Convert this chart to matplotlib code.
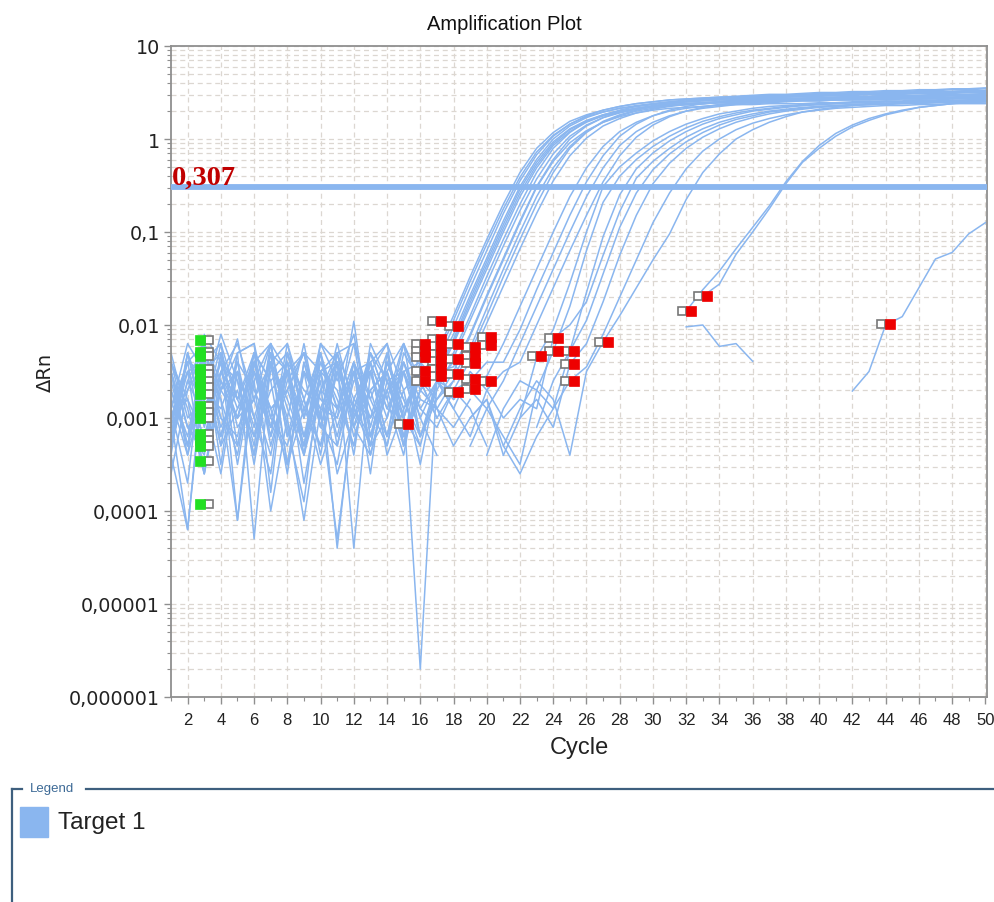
import numpy as np
import matplotlib
matplotlib.use("Agg")
import matplotlib.pyplot as plt
from matplotlib import font_manager
from matplotlib.lines import Line2D
from matplotlib.patches import Rectangle
from matplotlib.ticker import FixedLocator, MultipleLocator, NullFormatter, LogLocator
from matplotlib.transforms import offset_copy

N = None  # no positive dRn at that cycle -> gap on the log axis

cycles = list(range(1, 51))
threshold = 0.307
threshold_text = "0,307"
ytick_values = [1e-6, 1e-5, 1e-4, 1e-3, 1e-2, 1e-1, 1, 10]
ytick_labels = ["0,000001", "0,00001", "0,0001", "0,001", "0,01", "0,1", "1", "10"]
legend_label = "Target 1"

# log10(dRn) per well, cycles 1..50
early_wells = [
    [-3.1, -2.4, -2.2, -3.2, -2.5, -3.5, -2.4, -2.2, -3.0, -2.3,
     -3.3, -2.4, -2.9, -3.3, -2.5, -2.4, -2.3, -1.9, -1.48, -1.08,
     -0.7, -0.36, -0.1, 0.07, 0.19, 0.26, 0.31, 0.35, 0.38, 0.40,
     0.42, 0.43, 0.44, 0.45, 0.45, 0.46, 0.46, 0.47, 0.47, 0.48,
     0.48, 0.49, 0.49, 0.49, 0.50, 0.50, 0.50, 0.51, 0.51, 0.51],
    [-2.9, -3.7, -2.2, -2.7, -2.15, -3.0, -3.6, -2.3, -2.9, -3.3,
     -2.3, -3.1, -2.4, -3.4, -2.9, -2.5, -2.35, -1.95, -1.53, -1.13,
     -0.75, -0.41, -0.14, 0.04, 0.16, 0.24, 0.29, 0.33, 0.35, 0.37,
     0.39, 0.40, 0.41, 0.42, 0.42, 0.43, 0.43, 0.44, 0.44, 0.44,
     0.45, 0.45, 0.45, 0.46, 0.46, 0.46, 0.46, 0.47, 0.47, 0.47],
    [-3.4, -2.3, -3.0, -2.2, -3.3, -2.6, -2.2, -3.1, -3.9, -2.5,
     -2.3, -2.2, -3.2, -2.5, -2.2, -2.7, -2.45, -2.1, -1.68, -1.28,
     -0.88, -0.51, -0.22, 0.0, 0.14, 0.23, 0.29, 0.33, 0.36, 0.38,
     0.40, 0.41, 0.42, 0.43, 0.44, 0.45, 0.45, 0.46, 0.47, 0.47,
     0.48, 0.48, 0.49, 0.49, 0.50, 0.50, 0.51, 0.51, 0.52, 0.52],
    [-2.6, -3.3, -2.3, -3.5, -2.3, -2.2, -3.0, -2.4, -3.4, -2.3,
     -3.1, -2.5, -3.6, -2.3, -3.0, -2.5, -2.5, -2.15, -1.72, -1.32,
     -0.92, -0.54, -0.25, -0.03, 0.11, 0.20, 0.26, 0.30, 0.33, 0.35,
     0.36, 0.37, 0.38, 0.39, 0.39, 0.40, 0.40, 0.41, 0.41, 0.41,
     0.42, 0.42, 0.42, 0.42, 0.43, 0.43, 0.43, 0.43, 0.44, 0.44],
    [-3.0, -4.2, -2.4, -2.2, -2.8, -3.2, -2.3, -3.5, -2.4, -3.0,
     -2.2, -2.9, -2.5, -2.2, -3.3, -2.2, -2.55, -2.2, -1.8, -1.4,
     -1.0, -0.62, -0.31, -0.07, 0.08, 0.18, 0.25, 0.30, 0.33, 0.35,
     0.37, 0.38, 0.39, 0.40, 0.41, 0.42, 0.42, 0.43, 0.43, 0.44,
     0.44, 0.45, 0.45, 0.45, 0.46, 0.46, 0.46, 0.47, 0.47, 0.47],
    [-2.4, -3.1, -3.4, -2.3, -4.1, -2.4, -3.2, -2.2, -2.8, -3.5,
     -2.9, -2.2, -2.8, -3.2, -2.4, -2.9, -2.6, -2.3, -1.9, -1.48,
     -1.08, -0.7, -0.36, -0.1, 0.07, 0.19, 0.26, 0.31, 0.35, 0.38,
     0.40, 0.42, 0.43, 0.44, 0.45, 0.46, 0.47, 0.47, 0.48, 0.49,
     0.49, 0.50, 0.50, 0.51, 0.51, 0.52, 0.52, 0.53, 0.53, 0.54],
    [-3.3, -2.6, -2.2, -3.0, -3.2, -2.3, -3.3, -2.6, -2.3, -2.5,
     -3.6, -3.0, -2.3, -2.8, -2.2, -3.2, -2.7, -2.35, -1.95, -1.55,
     -1.15, -0.77, -0.43, -0.16, 0.03, 0.15, 0.23, 0.28, 0.32, 0.35,
     0.37, 0.38, 0.39, 0.40, 0.41, 0.41, 0.42, 0.42, 0.43, 0.43,
     0.43, 0.44, 0.44, 0.44, 0.45, 0.45, 0.45, 0.45, 0.46, 0.46],
    [-2.9, -2.2, -2.5, -3.3, -2.3, -4.3, -2.4, -3.0, -2.2, -3.1,
     -2.5, -3.4, -2.2, -2.6, -3.2, -2.7, -2.5, -2.45, -2.1, -1.68,
     -1.28, -0.88, -0.51, -0.22, 0.0, 0.14, 0.23, 0.29, 0.33, 0.36,
     0.38, 0.40, 0.41, 0.42, 0.43, 0.44, 0.45, 0.45, 0.46, 0.46,
     0.47, 0.47, 0.48, 0.48, 0.48, 0.49, 0.49, 0.49, 0.50, 0.50],
    [-2.3, -3.0, -2.8, -2.1, -2.6, -3.3, -2.2, -3.2, -2.8, -2.3,
     -2.9, -2.4, -3.3, -3.0, -2.2, -2.6, -2.8, -2.5, -2.12, -1.7,
     -1.3, -0.9, -0.52, -0.24, -0.04, 0.09, 0.18, 0.24, 0.28, 0.31,
     0.33, 0.34, 0.35, 0.36, 0.37, 0.37, 0.38, 0.38, 0.38, 0.39,
     0.39, 0.39, 0.40, 0.40, 0.40, 0.40, 0.41, 0.41, 0.41, 0.41],
    [-3.0, -2.5, -3.6, -2.7, -2.3, -2.2, -3.8, -2.3, -3.0, -2.2,
     -2.6, -2.1, -3.1, -2.4, -2.8, -3.2, -2.6, -2.55, -2.25, -1.82,
     -1.4, -1.0, -0.62, -0.31, -0.08, 0.08, 0.18, 0.25, 0.30, 0.33,
     0.36, 0.38, 0.39, 0.40, 0.41, 0.42, 0.43, 0.43, 0.44, 0.44,
     0.45, 0.45, 0.46, 0.46, 0.46, 0.47, 0.47, 0.47, 0.48, 0.48],
    [-3.3, -2.3, -3.1, -2.5, -3.0, -2.8, -2.2, -2.5, -3.3, -2.2,
     -2.4, -4.4, -2.5, -3.0, -2.4, -2.8, -2.9, -2.6, -2.3, -1.9,
     -1.48, -1.08, -0.7, -0.36, -0.1, 0.07, 0.19, 0.26, 0.31, 0.35,
     0.38, 0.40, 0.42, 0.43, 0.44, 0.45, 0.46, 0.47, 0.47, 0.48,
     0.48, 0.49, 0.49, 0.50, 0.50, 0.51, 0.51, 0.51, 0.52, 0.52],
    [-2.5, -3.3, -2.3, -2.8, -3.4, -2.4, -3.0, -3.3, -2.5, -2.8,
     -3.0, -1.96, -3.2, -2.5, -3.0, -2.4, -2.6, -2.7, -2.38, -1.98,
     -1.58, -1.18, -0.8, -0.45, -0.18, 0.01, 0.14, 0.22, 0.28, 0.32,
     0.35, 0.37, 0.38, 0.39, 0.40, 0.41, 0.41, 0.42, 0.42, 0.43,
     0.43, 0.43, 0.44, 0.44, 0.44, 0.45, 0.45, 0.45, 0.45, 0.46],
    [-3.6, -2.7, -2.2, -2.6, -3.0, -2.3, -2.6, -3.6, -2.4, -3.1,
     -2.3, -2.8, -2.4, -2.2, -2.7, -2.5, -2.5, -2.18, -1.76, -1.36,
     -0.96, -0.58, -0.28, -0.05, 0.10, 0.19, 0.25, 0.29, 0.32, 0.34,
     0.36, 0.37, 0.38, 0.39, 0.40, 0.40, 0.41, 0.41, 0.42, 0.42,
     0.42, 0.43, 0.43, 0.43, 0.44, 0.44, 0.44, 0.44, 0.45, 0.45],
    [-2.8, -3.4, -2.1, -2.4, -2.6, -3.4, -2.3, -2.5, -3.2, -2.4,
     -2.8, -3.3, -2.3, -2.6, -3.0, -2.4, -2.4, -2.02, -1.6, -1.2,
     -0.8, -0.45, -0.17, 0.03, 0.16, 0.25, 0.31, 0.35, 0.38, 0.40,
     0.42, 0.43, 0.44, 0.45, 0.46, 0.47, 0.48, 0.48, 0.49, 0.50,
     0.50, 0.51, 0.51, 0.52, 0.52, 0.53, 0.53, 0.54, 0.54, 0.55],
    [-2.5, -3.1, -3.3, -2.3, -2.8, -2.4, -2.2, -3.2, -2.5, -3.4,
     -2.4, -3.0, -2.5, -3.2, -2.3, -2.6, -3.0, -2.7, -2.6, -2.55,
     -2.2, -1.8, -1.4, -1.0, -0.62, -0.31, -0.08, 0.08, 0.18, 0.25,
     0.30, 0.33, 0.35, 0.37, 0.38, 0.39, 0.40, 0.41, 0.42, 0.42,
     0.43, 0.43, 0.44, 0.44, 0.44, 0.45, 0.45, 0.45, 0.46, 0.46],
    [-3.2, -2.3, -2.8, -3.6, -2.5, -3.0, -2.4, -2.8, -3.3, -2.5,
     -3.2, -2.4, -2.8, -2.3, -3.2, -2.7, -2.5, -2.8, -2.6, -2.4,
     -2.4, -2.05, -1.62, -1.22, -0.82, -0.46, -0.18, 0.03, 0.16, 0.25,
     0.31, 0.35, 0.38, 0.40, 0.42, 0.43, 0.44, 0.45, 0.46, 0.46,
     0.47, 0.47, 0.48, 0.48, 0.49, 0.49, 0.49, 0.50, 0.50, 0.50],
    [-2.4, -2.8, -3.2, -2.5, -2.2, -2.8, -3.4, -2.5, -2.3, -3.0,
     -3.5, -2.5, -3.0, -2.4, -2.8, -3.3, -2.6, -2.4, -2.7, -2.9,
     -2.6, -2.2, -1.8, -1.4, -1.0, -0.62, -0.31, -0.07, 0.08, 0.18,
     0.25, 0.30, 0.33, 0.35, 0.37, 0.38, 0.39, 0.40, 0.41, 0.41,
     0.42, 0.42, 0.42, 0.43, 0.43, 0.43, 0.44, 0.44, 0.44, 0.44],
    [-3.0, -2.4, -2.5, -3.0, -3.3, -2.3, -2.6, -2.4, -3.2, -2.7,
     -2.3, -3.1, -3.4, -2.7, -2.4, -3.0, -2.6, -2.9, -2.5, -2.7,
     -2.5, -2.4, -2.0, -1.6, -1.2, -0.82, -0.46, -0.18, 0.02, 0.15,
     0.24, 0.30, 0.34, 0.37, 0.39, 0.41, 0.42, 0.43, 0.44, 0.45,
     0.45, 0.46, 0.46, 0.47, 0.47, 0.47, 0.48, 0.48, 0.48, 0.49],
]

mid_wells = [
    [-2.7, -3.3, -2.5, -2.3, -3.1, -2.8, -2.4, -3.5, -2.9, -2.5,
     -2.4, -3.2, -2.7, -3.3, -2.5, -2.9, -3.1, -2.7, -2.9, -3.3,
     N, -3.0, -2.35, -2.05, -1.55, -1.0, -0.51, -0.3, -0.15, -0.02,
     0.08, 0.16, 0.22, 0.27, 0.30, 0.33, 0.35, 0.36, 0.37, 0.38,
     0.39, 0.40, 0.40, 0.41, 0.41, 0.42, 0.42, 0.43, 0.43, 0.43],
    [-2.4, -2.9, -3.6, -2.5, -2.8, -2.3, -3.1, -2.5, -3.7, -2.7,
     -2.9, -2.4, -3.4, -2.6, -2.5, -3.2, -2.8, -2.6, N, -3.4,
     -2.9, -2.6, -2.7, -2.28, -1.8, -1.2, -0.68, -0.4, -0.22, -0.08,
     0.03, 0.12, 0.19, 0.24, 0.28, 0.31, 0.33, 0.35, 0.36, 0.37,
     0.38, 0.39, 0.39, 0.40, 0.40, 0.41, 0.41, 0.41, 0.42, 0.42],
    [-3.2, -2.5, -2.4, -3.1, -2.7, -3.4, -2.5, -2.3, -2.8, -3.3,
     -2.5, -2.9, -2.3, -2.8, -3.4, -2.4, -2.9, -3.3, -3.0, -2.8,
     -3.4, N, -3.1, -2.6, -2.28, -1.65, -1.05, -0.6, -0.32, -0.15,
     -0.02, 0.08, 0.16, 0.22, 0.26, 0.30, 0.32, 0.34, 0.36, 0.37,
     0.38, 0.39, 0.39, 0.40, 0.40, 0.41, 0.41, 0.41, 0.42, 0.42],
    [-2.5, -3.1, -2.9, -2.4, -3.5, -2.5, -2.9, -2.7, -2.3, -3.1,
     -3.3, -2.6, -2.5, -3.2, -2.7, -3.5, -2.6, -2.9, -3.2, -2.7,
     -3.0, -2.8, -2.9, -2.14, -2.0, -1.75, -1.25, -0.78, -0.42, -0.24,
     -0.10, 0.02, 0.11, 0.18, 0.23, 0.27, 0.30, 0.32, 0.34, 0.35,
     0.36, 0.37, 0.38, 0.38, 0.39, 0.39, 0.40, 0.40, 0.40, 0.41],
    [-2.9, -2.4, -3.3, -2.7, -2.5, -3.1, -2.3, -2.9, -3.4, -2.5,
     -2.7, -3.3, -2.4, -2.9, -2.5, -3.0, -3.4, N, -3.0, -2.8,
     -3.3, -3.6, -3.2, -2.9, -2.28, -1.95, -1.45, -0.95, -0.58, -0.33,
     -0.16, -0.03, 0.07, 0.15, 0.21, 0.25, 0.29, 0.31, 0.33, 0.35,
     0.36, 0.37, 0.37, 0.38, 0.38, 0.39, 0.39, 0.40, 0.40, 0.40],
    [-3.0, -2.7, -2.4, -3.3, -2.9, -2.5, -3.1, -2.4, -2.7, -2.9,
     -2.4, -3.1, -2.7, -2.5, -3.3, -2.7, -2.9, -3.1, -2.8, N,
     -3.4, -3.0, -2.8, -3.1, -2.42, -2.2, -1.75, -1.25, -0.82, -0.48,
     -0.26, -0.10, 0.02, 0.11, 0.18, 0.23, 0.27, 0.30, 0.32, 0.34,
     0.35, 0.36, 0.37, 0.37, 0.38, 0.38, 0.39, 0.39, 0.39, 0.40],
    [-2.5, -3.4, -2.7, -2.9, -2.4, -3.2, -2.7, -2.5, -3.0, -2.4,
     -2.9, -2.5, -3.3, -2.4, -2.9, -2.6, -3.0, N, -3.3, -2.9,
     -3.2, -3.5, -2.7, -2.9, -2.6, -2.45, -2.1, -1.7, -1.3, -0.9,
     -0.58, -0.32, -0.13, 0.0, 0.10, 0.17, 0.22, 0.26, 0.29, 0.31,
     0.33, 0.34, 0.35, 0.36, 0.36, 0.37, 0.37, 0.38, 0.38, 0.38],
]

late_wells = [
    [-3.3, -2.6, -3.0, -2.4, -2.9, -2.5, -3.2, -2.7, -2.3, -3.1,
     -2.5, -2.9, -3.3, -2.4, -2.9, -5.7, -2.6, -2.8, N, N,
     -3.3, -2.9, -2.6, -2.8, -3.4, -2.5, -2.18, -1.9, -1.6, -1.3,
     -1.02, -0.65, -0.36, -0.16, 0.0, 0.10, 0.18, 0.24, 0.29, 0.32,
     0.34, 0.36, 0.37, 0.38, 0.39, 0.40, 0.40, 0.41, 0.41, 0.42],
    [-3.0, -2.5, -2.9, -3.2, -2.4, -2.7, -3.1, -2.5, -3.4, -2.7,
     -2.4, -3.0, -2.7, -2.5, -3.2, -2.8, N, N, N, N,
     N, N, N, N, N, N, N, N, N, N,
     N, N, -1.69, -1.56, -1.24, -1.0, -0.75, -0.48, -0.25, -0.10,
     0.03, 0.13, 0.20, 0.26, 0.30, 0.34, 0.36, 0.38, 0.40, 0.41],
    [-2.7, -3.2, -2.3, -2.7, -3.0, -2.4, -2.9, -3.5, -2.5, -2.9,
     -3.0, -2.5, -2.4, -2.9, -3.0, -3.3, N, N, N, N,
     N, N, N, N, N, N, N, N, N, N,
     N, -1.85, -1.62, -1.42, -1.18, -0.95, -0.72, -0.46, -0.24, -0.07,
     0.06, 0.15, 0.22, 0.27, 0.31, 0.34, 0.36, 0.38, 0.39, 0.40],
    [-3.4, -4.2, -2.5, -2.8, -4.1, -2.6, -4.0, -3.0, -4.1, -2.9,
     -4.3, -2.9, -3.2, -2.7, -3.3, -2.5, N, N, N, N,
     N, N, N, N, N, N, N, N, N, N,
     N, N, N, N, N, N, N, N, N, N,
     N, -2.71, -2.5, -2.0, -1.91, -1.6, -1.29, -1.22, -1.02, -0.9],
    [-3.0, -2.8, -3.6, -2.6, -3.0, -2.4, -2.9, -2.7, -3.2, -2.6,
     -4.4, -2.8, -3.0, -2.7, -2.5, -3.2, N, N, N, N,
     N, N, N, N, N, N, N, N, N, N,
     N, -2.02, -2.0, -2.23, -2.2, -2.39, N, N, N, N,
     N, N, N, N, N, N, N, N, N, N],
]

# baseline start (green) and end (red) flags: cycle, log10(dRn)
start_cycles = [3] * 16
start_log = [-2.16, -2.29, -2.33, -2.47, -2.53, -2.60, -2.67, -2.74,
             -2.87, -2.94, -3.00, -3.17, -3.24, -3.30, -3.46, -3.92]
end_cycles = [15, 16, 16, 16, 16, 16, 17, 17, 17, 17, 17, 17, 17,
              18, 18, 18, 18, 18, 19, 19, 19, 19, 19, 20, 20, 20,
              23, 24, 24, 25, 25, 25, 27, 32, 33, 44]
end_log = [-3.06, -2.2, -2.28, -2.34, -2.49, -2.6,
           -1.96, -2.15, -2.23, -2.31, -2.39, -2.47, -2.55,
           -2.01, -2.2, -2.37, -2.53, -2.72,
           -2.24, -2.33, -2.41, -2.58, -2.69,
           -2.13, -2.22, -2.6, -2.33, -2.14, -2.28,
           -2.28, -2.42, -2.6, -2.18, -1.85, -1.69, -1.99]

for row in early_wells + mid_wells + late_wells:
    assert len(row) == len(cycles), len(row)

names = {f.name for f in font_manager.fontManager.ttflist}
NARROW = "Liberation Sans Narrow" if "Liberation Sans Narrow" in names else "Liberation Sans"

CURVE = "#8ab6ef"
GRID = "#dcd7d1"
SPINE = "#8f8f8f"

W, H = 995, 903
fig = plt.figure(figsize=(W / 100, H / 100), dpi=100)
ax = fig.add_axes([171 / W, 1 - 698 / H, (987 - 171) / W, (698 - 47) / H])


def to_drn(row):
    return np.array([np.nan if v is None else 10.0 ** v for v in row])


for row in early_wells + mid_wells + late_wells:
    ax.plot(cycles, to_drn(row), color=CURVE, lw=1.1, zorder=2)

ax.axhline(threshold, color=CURVE, lw=4.2, zorder=3)
ax.text(1.05, threshold * 1.09, threshold_text, color="#c00000", fontsize=20.5,
        fontweight="bold", family="Liberation Serif", va="baseline", ha="left",
        zorder=6)

# baseline flags: pair of boxes centred on the cycle
left = offset_copy(ax.transData, fig=fig, x=-4.5, y=0, units="dots")
right = offset_copy(ax.transData, fig=fig, x=4.5, y=0, units="dots")
sv = 10.0 ** np.array(start_log)
ev = 10.0 ** np.array(end_log)
ax.plot(start_cycles, sv, ls="none", marker="s", ms=6, mfc="white", mec="#777777",
        mew=1.2, transform=right, zorder=4, clip_on=False)
ax.plot(start_cycles, sv, ls="none", marker="s", ms=7.5, mfc="#22e022", mec="#22e022",
        mew=0.5, transform=left, zorder=5, clip_on=False)
ax.plot(end_cycles, ev, ls="none", marker="s", ms=6, mfc="white", mec="#777777",
        mew=1.2, transform=left, zorder=4, clip_on=False)
ax.plot(end_cycles, ev, ls="none", marker="s", ms=7.5, mfc="#ee0000", mec="#ee0000",
        mew=0.5, transform=right, zorder=5, clip_on=False)

ax.set_yscale("log")
ax.set_ylim(1e-6, 10)
ax.set_xlim(1, 50.1)
ax.yaxis.set_major_locator(FixedLocator(ytick_values))
ax.set_yticklabels(ytick_labels)
ax.yaxis.set_minor_locator(LogLocator(base=10, subs=np.arange(2, 10)))
ax.yaxis.set_minor_formatter(NullFormatter())
ax.xaxis.set_minor_locator(MultipleLocator(1))
ax.set_xticks(range(2, 51, 2))

ax.grid(True, which="major", axis="x", color=GRID, ls=(0, (4, 3)), lw=0.9)
ax.grid(True, which="both", axis="y", color=GRID, ls=(0, (4, 3)), lw=0.9)
ax.set_axisbelow(True)

for s in ax.spines.values():
    s.set_color(SPINE)
    s.set_linewidth(1.3)
ax.tick_params(axis="both", which="major", direction="out", color=SPINE, length=5, width=1)
ax.tick_params(axis="both", which="minor", direction="out", color=SPINE, length=3, width=0.8)
ax.tick_params(axis="y", which="major", labelsize=13.8, pad=3, labelcolor="#222222")
ax.tick_params(axis="x", which="major", labelsize=12, pad=6, labelcolor="#222222")
for lab in ax.get_xticklabels():
    lab.set_family(NARROW)
for lab in ax.get_yticklabels():
    lab.set_family("DejaVu Sans")

ax.set_xlabel("Cycle", family=NARROW, fontsize=17, color="#222222")
ax.xaxis.set_label_coords(0.5, -0.077)
ax.xaxis.label.set_va("center")
ax.set_ylabel("ΔRn", family="DejaVu Sans", fontsize=14, color="#222222")
ax.yaxis.set_label_coords(-0.154, 0.5)
ax.yaxis.label.set_va("center")

fig.text(504 / W, 1 - 25 / H, "Amplification Plot", ha="center", va="center",
         family="Liberation Sans", fontsize=14.5, color="#111111")

# legend panel
FRAME = "#3e5f7e"
fig.add_artist(Line2D([12 / W, 12 / W], [0, 1 - 790 / H], color=FRAME, lw=1.6))
fig.add_artist(Line2D([12 / W, 22 / W], [1 - 790 / H] * 2, color=FRAME, lw=1.6))
fig.add_artist(Line2D([86 / W, 1.0], [1 - 790 / H] * 2, color=FRAME, lw=1.6))
fig.text(30 / W, 1 - 789 / H, "Legend", family=NARROW, fontsize=9.5, color="#3d6a96",
         ha="left", va="center")
fig.add_artist(Rectangle((20 / W, 1 - 838 / H), 28 / W, 30 / H, color=CURVE,
                         transform=fig.transFigure))
fig.text(58 / W, 1 - 823 / H, legend_label, family=NARROW, fontsize=17.5,
         color="#222222", ha="left", va="center")

fig.savefig("out.png", dpi=100)
